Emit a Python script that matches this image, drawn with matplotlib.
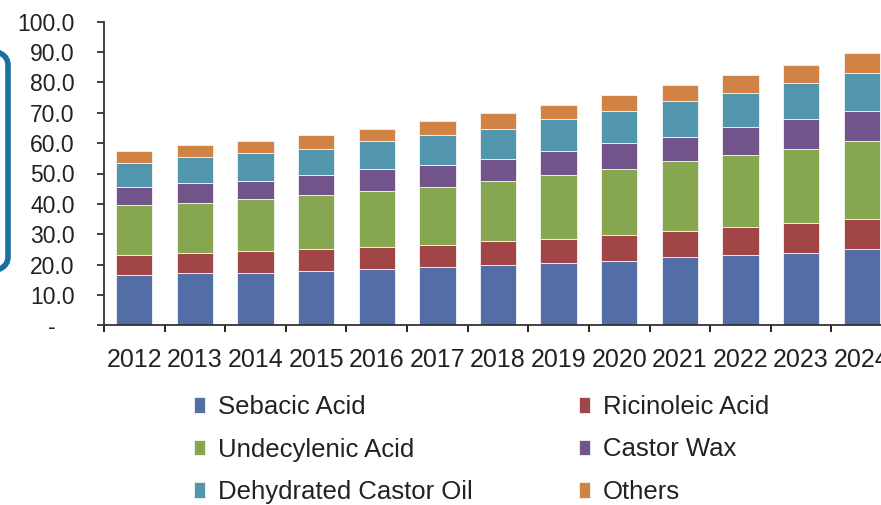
import numpy as np
import matplotlib.pyplot as plt
from matplotlib.patches import FancyBboxPatch

years = ["2012", "2013", "2014", "2015", "2016", "2017", "2018",
         "2019", "2020", "2021", "2022", "2023", "2024"]

sebacic      = [16.6, 17.1, 17.3, 17.9, 18.5, 19.2, 19.9, 20.5, 21.2, 22.5, 23.2, 23.8, 25.1]
ricinoleic   = [6.5, 6.7, 7.2, 7.2, 7.3, 7.2, 7.9, 7.9, 8.5, 8.6, 9.2, 9.9, 9.9]
undecylenic  = [16.5, 16.5, 17.1, 17.8, 18.4, 19.2, 19.7, 21.1, 21.8, 23.1, 23.7, 24.4, 25.7]
castor_wax   = [6.0, 6.6, 5.9, 6.6, 7.3, 7.2, 7.3, 7.9, 8.6, 7.8, 9.2, 9.8, 9.9]
dehydrated   = [7.9, 8.5, 9.3, 8.6, 9.2, 9.9, 9.9, 10.5, 10.5, 11.9, 11.2, 11.9, 12.5]
others       = [3.9, 4.0, 3.9, 4.6, 4.0, 4.6, 5.3, 4.7, 5.2, 5.2, 5.9, 5.9, 6.6]

series = [
    ("Sebacic Acid", sebacic, "#536ea6"),
    ("Ricinoleic Acid", ricinoleic, "#a24547"),
    ("Undecylenic Acid", undecylenic, "#87a650"),
    ("Castor Wax", castor_wax, "#73548a"),
    ("Dehydrated Castor Oil", dehydrated, "#5296ae"),
    ("Others", others, "#d18346"),
]

plt.rcParams['font.family'] = ['Liberation Sans', 'DejaVu Sans']
text_color = "#222222"

fig = plt.figure(figsize=(8.81, 5.05), dpi=100)
ax = fig.add_axes([104 / 881, 1 - 325.3 / 505, 788 / 881, 303.6 / 505])

x = np.arange(len(years))
bottom = np.zeros(len(years))
handles = {}
for name, vals, color in series:
    bars = ax.bar(x, vals, width=0.6, bottom=bottom, color=color,
                  edgecolor="#f4f4f4", linewidth=0.6, label=name)
    handles[name] = bars
    bottom += np.array(vals)

ax.set_xlim(-0.5, len(years) - 0.5)
ax.set_ylim(0, 100)

ax.set_yticks(np.arange(0, 101, 10))
ax.set_yticklabels(["-   "] + ["%.1f" % v for v in range(10, 101, 10)])
ax.set_xticks(x)
ax.set_xticklabels(years)
ax.set_xticks(np.arange(-0.5, len(years), 1), minor=True)

ax.tick_params(axis="y", direction="out", length=5, width=1.2, pad=16,
               labelsize=16.5, colors=text_color)
ax.tick_params(axis="x", which="major", length=0, pad=16,
               labelsize=18, colors=text_color)
ax.tick_params(axis="x", which="minor", direction="out", length=5, width=1.2)

for side in ("top", "right"):
    ax.spines[side].set_visible(False)
for side in ("left", "bottom"):
    ax.spines[side].set_linewidth(1.3)
    ax.spines[side].set_color("#333333")

order = ["Sebacic Acid", "Undecylenic Acid", "Dehydrated Castor Oil",
         "Ricinoleic Acid", "Castor Wax", "Others"]
fig.legend([handles[n] for n in order], order, ncol=2,
           loc="upper left", bbox_to_anchor=(194 / 881, 1 - 395 / 505),
           frameon=False, fontsize=18.5, handlelength=0.42, handleheight=0.55,
           handletextpad=0.5, columnspacing=4.15, labelspacing=0.72,
           labelcolor=text_color, borderaxespad=0, borderpad=0)

# rounded box edge peeking in from the left
box = FancyBboxPatch((-200 / 881, 1 - 272 / 505), 208 / 881, 222 / 505,
                     boxstyle="round,pad=0,rounding_size=0.03",
                     transform=fig.transFigure, fill=False,
                     edgecolor="#17709f", linewidth=4)
fig.patches.append(box)

fig.savefig("out.png", dpi=100)
